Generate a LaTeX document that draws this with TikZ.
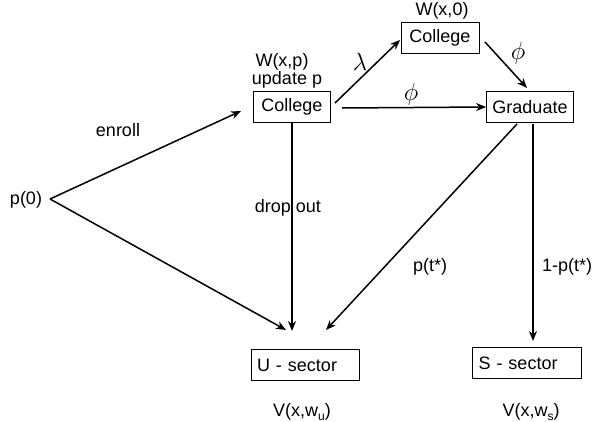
\documentclass[tikz,border=0pt]{standalone}
\usepackage{fontspec}
\setmainfont{Liberation Sans}
\usetikzlibrary{arrows.meta}
\begin{document}
\begin{tikzpicture}[x=1pt,y=-1pt,
  box/.style={draw, line width=0.8pt, inner sep=0pt, minimum height=31pt, font=\fontsize{18}{20}\selectfont},
  lbl/.style={font=\fontsize{18}{20}\selectfont, inner sep=0pt},
  gr/.style={font=\fontsize{25}{27}\selectfont, inner sep=0pt},
  arr/.style={line width=1.5pt, -{Stealth[length=10pt,width=8pt]}}]
\useasboundingbox (0,0) rectangle (597,422);
\node[box, minimum width=77pt] (c1) at (292,107) {College};
\node[box, minimum width=78pt] (c2) at (440,38) {College};
\node[box, minimum width=87pt] (gr) at (530,107) {Graduate};
\node[box, minimum width=108pt, text width=96pt, align=left] (us) at (305,365) {U - sector};
\node[box, minimum width=109pt, text width=97pt, align=left] (ss) at (527,363) {S - sector};
\node[lbl] (p0) at (26,200) {p(0)};
\coordinate (apex) at (50,199);
\node[lbl] at (282,62) {W(x,p)};
\node[lbl] at (287,80) {update p};
\node[lbl] at (442,11) {W(x,0)};
\node[lbl] at (118,130) {enroll};
\node[lbl] at (288,208) {drop out};
\node[lbl] at (430,267) {p(t*)};
\node[lbl] at (567,267) {1-p(t*)};
\node[lbl] at (302,412) {V(x,w\raisebox{-4pt}{\fontsize{12}{12}\selectfont u})};
\node[lbl] at (531,412) {V(x,w\raisebox{-4pt}{\fontsize{12}{12}\selectfont s})};
\node[gr] at (360,62) {$\lambda$};
\node[gr] at (518,53) {$\phi$};
\node[gr] at (411,94) {$\phi$};
\coordinate (c1a) at (335,103);
\coordinate (c2a) at (400,40);
\draw[arr] (apex) -- (241,111);
\draw[arr] (apex) -- (286,330);
\draw[arr] (c1.south) -- (292,331);
\draw[arr] (c1a) -- (c2a);
\draw[arr] (342,108) -- (gr.west);
\draw[arr] (485,42) -- (527,88);
\draw[arr] (517,124) -- (326,330);
\draw[arr] (533,124) -- (533,341);
\end{tikzpicture}
\end{document}
